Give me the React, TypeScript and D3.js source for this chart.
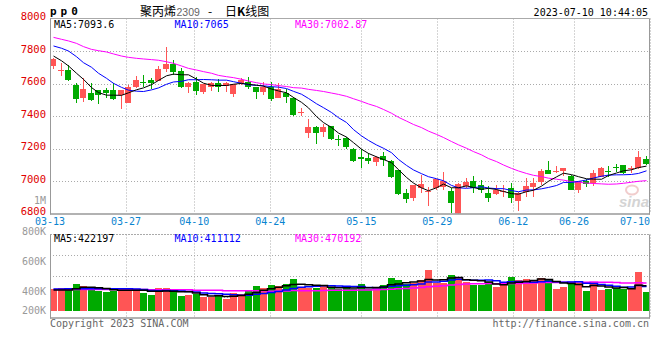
import React from 'react';
import * as d3 from 'd3';

const dates = [
  '03-13','03-14','03-15','03-16','03-17','03-20','03-21','03-22','03-23','03-24',
  '03-27','03-28','03-29','03-30','03-31','04-03','04-04','04-06','04-07','04-10',
  '04-11','04-12','04-13','04-14','04-17','04-18','04-19','04-20','04-21','04-24',
  '04-25','04-26','04-27','04-28','05-04','05-05','05-08','05-09','05-10','05-11',
  '05-12','05-15','05-16','05-17','05-18','05-19','05-22','05-23','05-24','05-25',
  '05-26','05-29','05-30','05-31','06-01','06-02','06-05','06-06','06-07','06-08',
  '06-09','06-12','06-13','06-14','06-15','06-16','06-19','06-20','06-21','06-26',
  '06-27','06-28','06-29','06-30','07-03','07-04','07-05','07-06','07-07','07-10',
];
const opens = [
  7710,7680,7683,7591,7513,7540,7560,7560,7560,7529,
  7482,7577,7611,7622,7615,7687,7720,7677,7581,7611,
  7550,7577,7605,7585,7533,7601,7611,7576,7550,7576,
  7513,7540,7513,7423,7297,7334,7304,7338,7258,7263,
  7199,7150,7144,7119,7154,7125,7068,6924,6897,6955,
  6930,6959,6961,6938,6790,6969,7000,6975,6928,6918,
  6932,6955,6877,6930,6965,6996,7068,7060,7064,7033,
  6945,7000,6986,7027,7063,7088,7096,7072,7078,7135,
];
const highs = [
  7755,7724,7714,7601,7632,7601,7562,7574,7601,7562,
  7591,7648,7652,7636,7708,7826,7745,7697,7607,7642,
  7597,7607,7628,7608,7597,7636,7642,7578,7611,7611,
  7601,7564,7519,7451,7380,7336,7351,7340,7283,7269,
  7201,7199,7174,7154,7181,7127,7070,6949,6977,7037,
  6965,7012,7057,6955,6985,7016,7031,7006,6969,6975,
  6975,6986,6930,7020,7016,7072,7123,7092,7082,7035,
  7002,7010,7068,7088,7092,7103,7098,7092,7185,7154,
];
const lows = [
  7689,7648,7615,7482,7488,7495,7474,7509,7500,7443,
  7480,7575,7577,7564,7613,7673,7652,7574,7543,7529,
  7535,7554,7550,7550,7519,7591,7564,7503,7529,7492,
  7509,7482,7400,7400,7263,7228,7273,7252,7217,7195,
  7119,7082,7103,7092,7092,7016,6915,6867,6879,6924,
  6848,6945,6945,6801,6785,6955,6928,6924,6873,6914,
  6904,6862,6815,6904,6900,6975,7043,7047,7033,6943,
  6924,6965,6969,7025,7027,7057,7043,7047,7072,7099,
];
const closes = [
  7751,7684,7622,7505,7566,7498,7529,7543,7505,7560,
  7577,7622,7601,7605,7689,7720,7673,7581,7605,7556,
  7595,7605,7577,7605,7595,7622,7576,7550,7576,7505,
  7564,7519,7406,7427,7334,7297,7334,7256,7254,7211,
  7125,7133,7125,7150,7129,7027,6918,6887,6975,6982,
  6938,7010,7000,6862,6982,6996,6959,6945,6893,6945,
  6936,6893,6928,6969,6990,7062,7043,7063,7082,6945,
  7000,6979,7051,7078,7060,7078,7047,7082,7146,7105,
];
const volumes = [
  363000,385000,363000,452000,419000,363000,340000,318000,340000,385000,
  363000,340000,302000,268000,385000,385000,318000,251000,263000,290000,
  229000,229000,263000,206000,302000,290000,335000,419000,385000,436000,
  419000,452000,536000,407000,385000,385000,419000,390000,363000,397000,
  363000,452000,363000,397000,436000,553000,519000,452000,464000,519000,
  687000,474000,474000,603000,570000,491000,436000,436000,491000,402000,
  436000,570000,519000,536000,503000,553000,519000,369000,402000,452000,
  469000,335000,486000,352000,369000,385000,369000,385000,653000,318000,
];
const ma5Head = [7769, 7740, 7708, 7663];
const ma10Head = [7831, 7817, 7800, 7765, 7728, 7700, 7663, 7632, 7601];
const ma30Head = [
  7884,7872,7862,7847,7827,7810,7802,7794,7782,7769,
  7761,7755,7751,7747,7743,7734,7724,7708,7693,7683,
  7673,7663,7650,7642,7636,7626,7615,7605,7597,
];
const volMa5Head = [350000, 352000, 352000, 374000];
const volMa10Head = [368000, 370000, 372000, 374000, 374000, 372000, 372000, 372000, 372000];
const volMa30Head = [
  362000,362000,362000,362000,362000,362000,362000,362000,362000,362000,
  362000,362000,362000,357000,357000,357000,357000,357000,357000,348000,
  348000,348000,348000,338000,338000,338000,338000,338000,338000,
];

const priceTicks = [8000, 7800, 7600, 7400, 7200, 7000, 6800];
const volTickLabels = ['800K', '600K', '400K', '200K'];
const dateTicks = ['03-13', '03-27', '04-10', '04-24', '05-15', '05-29', '06-12', '06-26', '07-10'];
const priceLegend = ['MA5:7093.6', 'MA10:7065', 'MA30:7002.87'];
const volLegend = ['MA5:422197', 'MA10:411112', 'MA30:470192'];
const maColors = ['#000000', '#0000ff', '#ff00ff'];

const RED = '#ff5555';
const GREEN = '#00aa00';
const MONO = '"DejaVu Sans Mono", "Liberation Mono", monospace';
const CJK = '"Noto Sans CJK SC", "Noto Sans", sans-serif';

function movingAverage(values: number[], n: number, head: number[]) {
  return values.map((_, i) =>
    i < n - 1 ? head[i] : d3.mean(values.slice(i - n + 1, i + 1)) as number
  );
}

export default function App() {
  const W = 660, H = 360;
  const L = 50, R = 650;
  const mainTop = 18.5, mainBottom = 213.5;
  const volTop = 234.5, volBottom = 317.5, volBase = 311;

  const n = dates.length;
  const gridX = d3.scaleLinear().domain([0, n - 1]).range([L, R]);
  const candleX = d3.scaleLinear().domain([0, 1]).range([L, L + 7.5]);
  const left = (i: number) => Math.round(candleX(i));
  const bw = 6;

  const y = d3.scaleLinear().domain([6800, 8000]).range([mainBottom, mainTop]);
  const vy = d3.scaleLinear().domain([0, 1000000]).range([volBase, volBase - 1000000 / 16750]);

  const ma5 = movingAverage(closes, 5, ma5Head);
  const ma10 = movingAverage(closes, 10, ma10Head);
  const ma30 = movingAverage(closes, 30, ma30Head);
  const vma5 = movingAverage(volumes, 5, volMa5Head);
  const vma10 = movingAverage(volumes, 10, volMa10Head);
  const vma30 = movingAverage(volumes, 30, volMa30Head);

  const priceLine = d3.line<number>().x((_, i) => left(i) + 3.5).y((d) => y(d));
  const volLine = d3.line<number>().x((_, i) => left(i) + 3.5).y((d) => vy(d)).curve(d3.curveStep);

  const tickIdx = dateTicks.map((t) => dates.indexOf(t));
  const volGrid = d3.range(1, 4).map((k) => volTop + ((volBottom - volTop) * k) / 4);

  return (
    <svg width={W} height={H} style={{ position: 'absolute', left: 0, top: 0, background: '#fff' }}
      xmlns="http://www.w3.org/2000/svg">
      <defs>
        <clipPath id="mainClip">
          <rect x={L} y={mainTop} width={R - L} height={mainBottom - mainTop} />
        </clipPath>
        <clipPath id="volClip">
          <rect x={L} y={volTop} width={R - L} height={volBottom - volTop} />
        </clipPath>
      </defs>
      <rect x={0} y={0} width={W} height={H} fill="#fff" />

      {/* header */}
      <text x={50} y={14.5} fontFamily={MONO} fontWeight="bold" fontSize={11} letterSpacing={4} fill="#000">pp0</text>
      <text y={15.5} fontFamily={CJK} fontSize={12} fill="#000">
        <tspan x={140}>聚丙烯</tspan>
        <tspan x={176.5} fill="#666" fontFamily='"Liberation Sans", sans-serif' fontSize={10.5}>2309</tspan>
        <tspan x={208}>-</tspan>
        <tspan x={225}>日</tspan>
        <tspan fontWeight="bold">K</tspan>
        <tspan>线图</tspan>
      </text>
      <text x={648} y={15.5} textAnchor="end" fontFamily={MONO} fontSize={10} fill="#000">2023-07-10 10:44:05</text>

      {/* main grid */}
      {priceTicks.filter((t) => t > 6800 && t < 8000).map((t) => (
        <line key={'hp' + t} x1={L} x2={R} y1={Math.round(y(t)) + 0.5} y2={Math.round(y(t)) + 0.5}
          stroke="#aaa" strokeDasharray="1,2" />
      ))}
      {tickIdx.map((i) => (
        <line key={'vg' + i} x1={Math.round(gridX(i)) + 0.5} x2={Math.round(gridX(i)) + 0.5}
          y1={mainTop} y2={mainBottom} stroke="#aaa" strokeDasharray="1,2" />
      ))}
      {/* sina watermark */}
      <g opacity={0.9}>
        <ellipse cx={632} cy={190} rx={6} ry={4.5} fill="none" stroke="#f0c8c8" strokeWidth={2} />
        <text x={619} y={207} fontFamily='"Liberation Sans", sans-serif' fontStyle="italic" fontWeight="bold"
          fontSize={15} fill="#d0d0d0">sina</text>
      </g>

      {/* candles */}
      <g clipPath="url(#mainClip)" shapeRendering="crispEdges">
        {closes.map((c, i) => {
          const o = opens[i];
          const up = c >= o;
          const col = up ? RED : GREEN;
          const x0 = left(i);
          const yTop = Math.round(y(Math.max(o, c)));
          const yBot = Math.round(y(Math.min(o, c)));
          return (
            <g key={'c' + i}>
              <rect x={x0 + 3} y={Math.round(y(highs[i]))} width={1}
                height={Math.max(1, Math.round(y(lows[i])) - Math.round(y(highs[i])))} fill={col} />
              <rect x={x0} y={yTop} width={bw} height={Math.max(1, yBot - yTop)} fill={col} />
            </g>
          );
        })}
      </g>
      <g clipPath="url(#mainClip)" fill="none" strokeWidth={1}>
        <path d={priceLine(ma30) || ''} stroke={maColors[2]} />
        <path d={priceLine(ma10) || ''} stroke={maColors[1]} />
        <path d={priceLine(ma5) || ''} stroke={maColors[0]} />
      </g>

      {/* main borders */}
      <line x1={L} x2={649.5} y1={mainTop} y2={mainTop} stroke="#aaa" />
      <line x1={L + 0.5} x2={L + 0.5} y1={mainTop} y2={mainBottom + 1} stroke="#999" />
      <line x1={649.5} x2={649.5} y1={mainTop} y2={mainBottom + 1} stroke="#999" />
      <line x1={L} x2={650} y1={mainBottom + 0.5} y2={mainBottom + 0.5} stroke="#999" strokeWidth={1.5} />

      {/* price labels */}
      {priceTicks.map((t) => (
        <text key={'pl' + t} x={46} y={y(t) + 1.8} textAnchor="end" fontFamily={MONO} fontSize={10.5} fill="#e00000">{t}</text>
      ))}
      <text x={46} y={204} textAnchor="end" fontFamily={MONO} fontSize={10} fill="#999">1M</text>

      {/* legend */}
      {priceLegend.map((s, k) => (
        <text key={'lg' + k} x={54 + k * 120.5} y={28} fontFamily={MONO} fontSize={10} fill={maColors[k]}>{s}</text>
      ))}

      {/* date labels */}
      {tickIdx.map((i, k) => {
        const x = gridX(i);
        const atEnd = x + 15 > R;
        return (
          <text key={'dl' + k} x={atEnd ? R : x} y={225} textAnchor={atEnd ? 'end' : 'middle'}
            fontFamily={MONO} fontSize={10} fill="#0a84d0">{dateTicks[k]}</text>
        );
      })}

      {/* volume panel grid */}
      {volGrid.map((g, k) => (
        <line key={'vh' + k} x1={L} x2={R} y1={Math.round(g) + 0.5} y2={Math.round(g) + 0.5} stroke="#aaa" strokeDasharray="1,2" />
      ))}
      {tickIdx.map((i) => (
        <line key={'vv' + i} x1={Math.round(gridX(i)) + 0.5} x2={Math.round(gridX(i)) + 0.5}
          y1={volTop} y2={volBottom} stroke="#aaa" strokeDasharray="1,2" />
      ))}
      <g clipPath="url(#volClip)" shapeRendering="crispEdges">
        {volumes.map((v, i) => (
          <rect key={'vb' + i} x={left(i)} y={Math.round(vy(v))} width={bw + 0.5}
            height={volBase - Math.round(vy(v))} fill={closes[i] >= opens[i] ? RED : GREEN} />
        ))}
      </g>
      <g clipPath="url(#volClip)" fill="none" strokeWidth={1.5}>
        <path d={volLine(vma30) || ''} stroke={maColors[2]} />
        <path d={volLine(vma10) || ''} stroke={maColors[1]} />
        <path d={volLine(vma5) || ''} stroke={maColors[0]} />
      </g>
      <line x1={L} x2={649.5} y1={volTop} y2={volTop} stroke="#aaa" strokeDasharray="2,1" />
      <line x1={L + 0.5} x2={L + 0.5} y1={volTop} y2={volBottom + 1} stroke="#999" />
      <line x1={649.5} x2={649.5} y1={volTop} y2={volBottom + 1} stroke="#999" />
      <line x1={L} x2={650} y1={volBottom + 0.5} y2={volBottom + 0.5} stroke="#999" strokeWidth={1.5} />

      {volTickLabels.map((s, k) => (
        <text key={'vl' + k} x={46} y={Math.min(volTop + 0.5 + k * 30, volBottom - 3.3)} textAnchor="end"
          fontFamily={MONO} fontSize={10} fill="#999">{s}</text>
      ))}
      {volLegend.map((s, k) => (
        <text key={'vlg' + k} x={54 + k * 120.5} y={241.5} fontFamily={MONO} fontSize={10} fill={maColors[k]}>{s}</text>
      ))}

      {/* footer */}
      <text x={50} y={326.5} fontFamily={MONO} fontSize={10} fill="#666">Copyright 2023 SINA.COM</text>
      <text x={649} y={326.5} textAnchor="end" fontFamily={MONO} fontSize={10} fill="#666">http://finance.sina.com.cn</text>
    </svg>
  );
}
